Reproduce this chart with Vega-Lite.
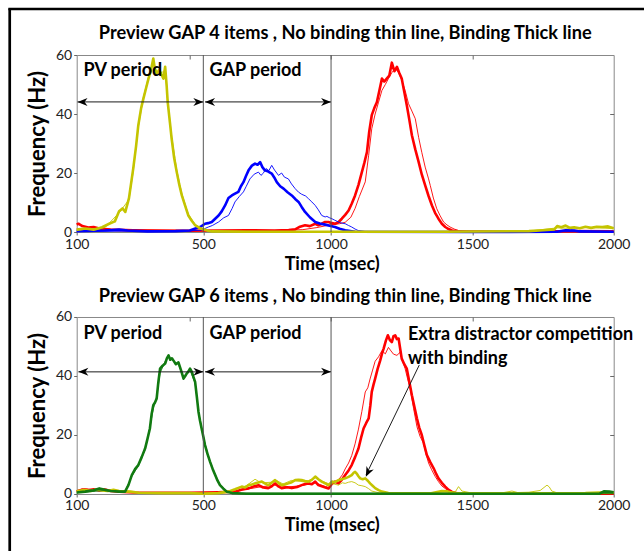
{
  "$schema": "https://vega.github.io/schema/vega-lite/v6.json",
  "padding": {"left": 6.7, "top": 6, "right": 0, "bottom": 0},
  "background": "white",
  "spacing": 85,
  "bounds": "flush",
  "config": {
    "view": {"stroke": "#888888", "strokeWidth": 1},
    "font": "Lato"
  },
  "datasets": {
    "top": [
      {"s":"red","b":"No binding","t":100,"f":1.0},{"s":"red","b":"No binding","t":150,"f":0.6},{"s":"red","b":"No binding","t":300,"f":0.4},{"s":"red","b":"No binding","t":600,"f":0.4},{"s":"red","b":"No binding","t":800,"f":0.5},{"s":"red","b":"No binding","t":900,"f":0.8},{"s":"red","b":"No binding","t":950,"f":1.5},{"s":"red","b":"No binding","t":1000,"f":2.5},{"s":"red","b":"No binding","t":1030,"f":2.8},{"s":"red","b":"No binding","t":1050,"f":3.3},{"s":"red","b":"No binding","t":1070,"f":5},{"s":"red","b":"No binding","t":1085,"f":8},{"s":"red","b":"No binding","t":1100,"f":12},{"s":"red","b":"No binding","t":1121,"f":17},{"s":"red","b":"No binding","t":1133,"f":26},{"s":"red","b":"No binding","t":1144,"f":35},{"s":"red","b":"No binding","t":1156,"f":40},{"s":"red","b":"No binding","t":1168,"f":44},{"s":"red","b":"No binding","t":1180,"f":48},{"s":"red","b":"No binding","t":1192,"f":50},{"s":"red","b":"No binding","t":1203,"f":52},{"s":"red","b":"No binding","t":1215,"f":54},{"s":"red","b":"No binding","t":1227,"f":55.5},{"s":"red","b":"No binding","t":1239,"f":54},{"s":"red","b":"No binding","t":1250,"f":51.5},{"s":"red","b":"No binding","t":1262,"f":48},{"s":"red","b":"No binding","t":1274,"f":43.5},{"s":"red","b":"No binding","t":1286,"f":41},{"s":"red","b":"No binding","t":1298,"f":38.4},{"s":"red","b":"No binding","t":1310,"f":32},{"s":"red","b":"No binding","t":1321,"f":27},{"s":"red","b":"No binding","t":1333,"f":22},{"s":"red","b":"No binding","t":1345,"f":18},{"s":"red","b":"No binding","t":1351,"f":15.8},{"s":"red","b":"No binding","t":1362,"f":11.5},{"s":"red","b":"No binding","t":1374,"f":7.9},{"s":"red","b":"No binding","t":1386,"f":5.5},{"s":"red","b":"No binding","t":1398,"f":3.4},{"s":"red","b":"No binding","t":1410,"f":2.4},{"s":"red","b":"No binding","t":1421,"f":1.7},{"s":"red","b":"No binding","t":1436,"f":1.0},{"s":"red","b":"No binding","t":1451,"f":0.5},{"s":"red","b":"No binding","t":1480,"f":0.2},{"s":"red","b":"No binding","t":2000,"f":0.1},
      {"s":"red","b":"Binding","t":100,"f":2.5},{"s":"red","b":"Binding","t":106,"f":2.8},{"s":"red","b":"Binding","t":120,"f":2.0},{"s":"red","b":"Binding","t":141,"f":1.5},{"s":"red","b":"Binding","t":160,"f":1.7},{"s":"red","b":"Binding","t":180,"f":1.2},{"s":"red","b":"Binding","t":220,"f":0.8},{"s":"red","b":"Binding","t":300,"f":0.6},{"s":"red","b":"Binding","t":400,"f":0.5},{"s":"red","b":"Binding","t":500,"f":0.4},{"s":"red","b":"Binding","t":600,"f":0.5},{"s":"red","b":"Binding","t":700,"f":0.6},{"s":"red","b":"Binding","t":800,"f":0.5},{"s":"red","b":"Binding","t":850,"f":0.7},{"s":"red","b":"Binding","t":873,"f":0.9},{"s":"red","b":"Binding","t":890,"f":1.8},{"s":"red","b":"Binding","t":908,"f":2.3},{"s":"red","b":"Binding","t":925,"f":2.0},{"s":"red","b":"Binding","t":944,"f":2.8},{"s":"red","b":"Binding","t":955,"f":2.3},{"s":"red","b":"Binding","t":967,"f":2.8},{"s":"red","b":"Binding","t":979,"f":3.4},{"s":"red","b":"Binding","t":991,"f":3.4},{"s":"red","b":"Binding","t":1003,"f":3.0},{"s":"red","b":"Binding","t":1014,"f":2.8},{"s":"red","b":"Binding","t":1026,"f":3.3},{"s":"red","b":"Binding","t":1038,"f":4.5},{"s":"red","b":"Binding","t":1050,"f":5.8},{"s":"red","b":"Binding","t":1062,"f":7.3},{"s":"red","b":"Binding","t":1073,"f":9.6},{"s":"red","b":"Binding","t":1085,"f":12.4},{"s":"red","b":"Binding","t":1097,"f":16},{"s":"red","b":"Binding","t":1109,"f":20.3},{"s":"red","b":"Binding","t":1118,"f":23.5},{"s":"red","b":"Binding","t":1127,"f":27.1},{"s":"red","b":"Binding","t":1135,"f":34},{"s":"red","b":"Binding","t":1144,"f":39.6},{"s":"red","b":"Binding","t":1153,"f":42},{"s":"red","b":"Binding","t":1162,"f":44},{"s":"red","b":"Binding","t":1171,"f":48},{"s":"red","b":"Binding","t":1180,"f":52},{"s":"red","b":"Binding","t":1188,"f":51},{"s":"red","b":"Binding","t":1197,"f":52},{"s":"red","b":"Binding","t":1206,"f":53},{"s":"red","b":"Binding","t":1215,"f":57.4},{"s":"red","b":"Binding","t":1224,"f":54.5},{"s":"red","b":"Binding","t":1233,"f":56},{"s":"red","b":"Binding","t":1241,"f":54},{"s":"red","b":"Binding","t":1250,"f":52},{"s":"red","b":"Binding","t":1259,"f":47.5},{"s":"red","b":"Binding","t":1268,"f":43},{"s":"red","b":"Binding","t":1277,"f":38},{"s":"red","b":"Binding","t":1286,"f":32.8},{"s":"red","b":"Binding","t":1298,"f":28},{"s":"red","b":"Binding","t":1310,"f":23.7},{"s":"red","b":"Binding","t":1321,"f":19.5},{"s":"red","b":"Binding","t":1333,"f":15.8},{"s":"red","b":"Binding","t":1345,"f":12.2},{"s":"red","b":"Binding","t":1357,"f":9},{"s":"red","b":"Binding","t":1368,"f":6.5},{"s":"red","b":"Binding","t":1380,"f":4.5},{"s":"red","b":"Binding","t":1392,"f":2.8},{"s":"red","b":"Binding","t":1404,"f":1.7},{"s":"red","b":"Binding","t":1416,"f":1.0},{"s":"red","b":"Binding","t":1428,"f":0.5},{"s":"red","b":"Binding","t":1450,"f":0.2},{"s":"red","b":"Binding","t":1600,"f":0.1},{"s":"red","b":"Binding","t":1800,"f":0.2},{"s":"red","b":"Binding","t":1850,"f":0.3},{"s":"red","b":"Binding","t":2000,"f":0.2},
      {"s":"blue","b":"No binding","t":100,"f":0.2},{"s":"blue","b":"No binding","t":300,"f":0.3},{"s":"blue","b":"No binding","t":500,"f":0.4},{"s":"blue","b":"No binding","t":540,"f":0.6},{"s":"blue","b":"No binding","t":566,"f":1.7},{"s":"blue","b":"No binding","t":580,"f":2.2},{"s":"blue","b":"No binding","t":602,"f":3.4},{"s":"blue","b":"No binding","t":620,"f":4.8},{"s":"blue","b":"No binding","t":637,"f":5.6},{"s":"blue","b":"No binding","t":650,"f":8},{"s":"blue","b":"No binding","t":660,"f":10.2},{"s":"blue","b":"No binding","t":675,"f":12},{"s":"blue","b":"No binding","t":690,"f":13.6},{"s":"blue","b":"No binding","t":700,"f":15.5},{"s":"blue","b":"No binding","t":713,"f":18},{"s":"blue","b":"No binding","t":728,"f":19.6},{"s":"blue","b":"No binding","t":743,"f":20.3},{"s":"blue","b":"No binding","t":752,"f":19.2},{"s":"blue","b":"No binding","t":760,"f":19.9},{"s":"blue","b":"No binding","t":770,"f":21.5},{"s":"blue","b":"No binding","t":780,"f":20.8},{"s":"blue","b":"No binding","t":790,"f":22.6},{"s":"blue","b":"No binding","t":800,"f":21},{"s":"blue","b":"No binding","t":814,"f":19.2},{"s":"blue","b":"No binding","t":825,"f":20},{"s":"blue","b":"No binding","t":835,"f":18.6},{"s":"blue","b":"No binding","t":849,"f":18},{"s":"blue","b":"No binding","t":860,"f":16.3},{"s":"blue","b":"No binding","t":873,"f":14.7},{"s":"blue","b":"No binding","t":885,"f":13.5},{"s":"blue","b":"No binding","t":896,"f":12.8},{"s":"blue","b":"No binding","t":910,"f":12.2},{"s":"blue","b":"No binding","t":920,"f":11.3},{"s":"blue","b":"No binding","t":932,"f":10.2},{"s":"blue","b":"No binding","t":944,"f":9},{"s":"blue","b":"No binding","t":955,"f":7.5},{"s":"blue","b":"No binding","t":967,"f":5.6},{"s":"blue","b":"No binding","t":979,"f":5.1},{"s":"blue","b":"No binding","t":985,"f":5.3},{"s":"blue","b":"No binding","t":995,"f":4.8},{"s":"blue","b":"No binding","t":1003,"f":4.5},{"s":"blue","b":"No binding","t":1013,"f":4},{"s":"blue","b":"No binding","t":1030,"f":3.2},{"s":"blue","b":"No binding","t":1050,"f":2.8},{"s":"blue","b":"No binding","t":1062,"f":2.2},{"s":"blue","b":"No binding","t":1073,"f":1.7},{"s":"blue","b":"No binding","t":1085,"f":1.0},{"s":"blue","b":"No binding","t":1096,"f":0.5},{"s":"blue","b":"No binding","t":1120,"f":0.2},{"s":"blue","b":"No binding","t":2000,"f":0.1},
      {"s":"blue","b":"Binding","t":100,"f":0.3},{"s":"blue","b":"Binding","t":200,"f":0.5},{"s":"blue","b":"Binding","t":250,"f":0.8},{"s":"blue","b":"Binding","t":280,"f":0.5},{"s":"blue","b":"Binding","t":350,"f":0.2},{"s":"blue","b":"Binding","t":450,"f":0.3},{"s":"blue","b":"Binding","t":500,"f":0.5},{"s":"blue","b":"Binding","t":520,"f":1.2},{"s":"blue","b":"Binding","t":537,"f":1.7},{"s":"blue","b":"Binding","t":554,"f":2.8},{"s":"blue","b":"Binding","t":565,"f":3.0},{"s":"blue","b":"Binding","t":578,"f":3.4},{"s":"blue","b":"Binding","t":590,"f":4.5},{"s":"blue","b":"Binding","t":602,"f":5.6},{"s":"blue","b":"Binding","t":613,"f":7.0},{"s":"blue","b":"Binding","t":625,"f":9},{"s":"blue","b":"Binding","t":637,"f":11.5},{"s":"blue","b":"Binding","t":649,"f":12.4},{"s":"blue","b":"Binding","t":660,"f":13.0},{"s":"blue","b":"Binding","t":672,"f":13.6},{"s":"blue","b":"Binding","t":681,"f":15.5},{"s":"blue","b":"Binding","t":690,"f":16.9},{"s":"blue","b":"Binding","t":699,"f":19},{"s":"blue","b":"Binding","t":708,"f":20.9},{"s":"blue","b":"Binding","t":720,"f":22.5},{"s":"blue","b":"Binding","t":731,"f":23.2},{"s":"blue","b":"Binding","t":740,"f":22.8},{"s":"blue","b":"Binding","t":749,"f":23.7},{"s":"blue","b":"Binding","t":757,"f":22},{"s":"blue","b":"Binding","t":766,"f":20.9},{"s":"blue","b":"Binding","t":778,"f":20.5},{"s":"blue","b":"Binding","t":790,"f":19.8},{"s":"blue","b":"Binding","t":799,"f":18.5},{"s":"blue","b":"Binding","t":808,"f":16.9},{"s":"blue","b":"Binding","t":820,"f":15.5},{"s":"blue","b":"Binding","t":832,"f":14.7},{"s":"blue","b":"Binding","t":846,"f":13.5},{"s":"blue","b":"Binding","t":861,"f":12.4},{"s":"blue","b":"Binding","t":873,"f":11.2},{"s":"blue","b":"Binding","t":885,"f":10.2},{"s":"blue","b":"Binding","t":896,"f":8.5},{"s":"blue","b":"Binding","t":908,"f":6.8},{"s":"blue","b":"Binding","t":925,"f":5},{"s":"blue","b":"Binding","t":944,"f":3.4},{"s":"blue","b":"Binding","t":960,"f":2.9},{"s":"blue","b":"Binding","t":979,"f":2.5},{"s":"blue","b":"Binding","t":995,"f":2.1},{"s":"blue","b":"Binding","t":1014,"f":1.7},{"s":"blue","b":"Binding","t":1030,"f":1.1},{"s":"blue","b":"Binding","t":1050,"f":0.6},{"s":"blue","b":"Binding","t":1085,"f":0.1},{"s":"blue","b":"Binding","t":1500,"f":0.0},{"s":"blue","b":"Binding","t":1800,"f":0.1},{"s":"blue","b":"Binding","t":1830,"f":0.6},{"s":"blue","b":"Binding","t":1860,"f":0.5},{"s":"blue","b":"Binding","t":1880,"f":0.2},{"s":"blue","b":"Binding","t":2000,"f":0.1},
      {"s":"yellow","b":"No binding","t":100,"f":0.6},{"s":"yellow","b":"No binding","t":200,"f":1.5},{"s":"yellow","b":"No binding","t":250,"f":6.5},{"s":"yellow","b":"No binding","t":285,"f":11},{"s":"yellow","b":"No binding","t":300,"f":20.5},{"s":"yellow","b":"No binding","t":318,"f":35.5},{"s":"yellow","b":"No binding","t":336,"f":45.8},{"s":"yellow","b":"No binding","t":354,"f":52.5},{"s":"yellow","b":"No binding","t":371,"f":57.5},{"s":"yellow","b":"No binding","t":383,"f":54.5},{"s":"yellow","b":"No binding","t":401,"f":54},{"s":"yellow","b":"No binding","t":413,"f":55},{"s":"yellow","b":"No binding","t":422,"f":44.5},{"s":"yellow","b":"No binding","t":436,"f":32.4},{"s":"yellow","b":"No binding","t":454,"f":21},{"s":"yellow","b":"No binding","t":472,"f":13},{"s":"yellow","b":"No binding","t":495,"f":6},{"s":"yellow","b":"No binding","t":519,"f":2.6},{"s":"yellow","b":"No binding","t":548,"f":1},{"s":"yellow","b":"No binding","t":578,"f":0.3},{"s":"yellow","b":"No binding","t":1000,"f":0.1},{"s":"yellow","b":"No binding","t":1700,"f":0.3},{"s":"yellow","b":"No binding","t":1800,"f":1.4},{"s":"yellow","b":"No binding","t":1850,"f":1.2},{"s":"yellow","b":"No binding","t":1900,"f":1.5},{"s":"yellow","b":"No binding","t":1950,"f":1.4},{"s":"yellow","b":"No binding","t":2000,"f":1.1},
      {"s":"yellow","b":"Binding","t":100,"f":0.8},{"s":"yellow","b":"Binding","t":130,"f":1.2},{"s":"yellow","b":"Binding","t":160,"f":0.8},{"s":"yellow","b":"Binding","t":190,"f":1.6},{"s":"yellow","b":"Binding","t":215,"f":2.8},{"s":"yellow","b":"Binding","t":235,"f":3.6},{"s":"yellow","b":"Binding","t":250,"f":7.0},{"s":"yellow","b":"Binding","t":262,"f":8.0},{"s":"yellow","b":"Binding","t":272,"f":6.8},{"s":"yellow","b":"Binding","t":285,"f":11.5},{"s":"yellow","b":"Binding","t":300,"f":21.5},{"s":"yellow","b":"Binding","t":310,"f":29},{"s":"yellow","b":"Binding","t":318,"f":36.2},{"s":"yellow","b":"Binding","t":328,"f":42},{"s":"yellow","b":"Binding","t":336,"f":45.2},{"s":"yellow","b":"Binding","t":346,"f":49},{"s":"yellow","b":"Binding","t":354,"f":52},{"s":"yellow","b":"Binding","t":363,"f":55},{"s":"yellow","b":"Binding","t":371,"f":58.8},{"s":"yellow","b":"Binding","t":377,"f":55},{"s":"yellow","b":"Binding","t":383,"f":53.7},{"s":"yellow","b":"Binding","t":392,"f":55},{"s":"yellow","b":"Binding","t":401,"f":53.2},{"s":"yellow","b":"Binding","t":407,"f":52},{"s":"yellow","b":"Binding","t":413,"f":56},{"s":"yellow","b":"Binding","t":418,"f":50},{"s":"yellow","b":"Binding","t":422,"f":44},{"s":"yellow","b":"Binding","t":430,"f":37},{"s":"yellow","b":"Binding","t":436,"f":31.6},{"s":"yellow","b":"Binding","t":445,"f":25},{"s":"yellow","b":"Binding","t":454,"f":20.3},{"s":"yellow","b":"Binding","t":463,"f":16},{"s":"yellow","b":"Binding","t":472,"f":12.4},{"s":"yellow","b":"Binding","t":485,"f":8.5},{"s":"yellow","b":"Binding","t":495,"f":5.6},{"s":"yellow","b":"Binding","t":507,"f":3.8},{"s":"yellow","b":"Binding","t":519,"f":2.3},{"s":"yellow","b":"Binding","t":535,"f":1.3},{"s":"yellow","b":"Binding","t":548,"f":0.9},{"s":"yellow","b":"Binding","t":565,"f":0.4},{"s":"yellow","b":"Binding","t":578,"f":0.2},{"s":"yellow","b":"Binding","t":700,"f":0.1},{"s":"yellow","b":"Binding","t":1000,"f":0.1},{"s":"yellow","b":"Binding","t":1400,"f":0.1},{"s":"yellow","b":"Binding","t":1700,"f":0.3},{"s":"yellow","b":"Binding","t":1750,"f":0.6},{"s":"yellow","b":"Binding","t":1790,"f":0.9},{"s":"yellow","b":"Binding","t":1800,"f":2.0},{"s":"yellow","b":"Binding","t":1815,"f":1.6},{"s":"yellow","b":"Binding","t":1830,"f":2.2},{"s":"yellow","b":"Binding","t":1845,"f":1.4},{"s":"yellow","b":"Binding","t":1860,"f":1.6},{"s":"yellow","b":"Binding","t":1880,"f":1.3},{"s":"yellow","b":"Binding","t":1900,"f":1.8},{"s":"yellow","b":"Binding","t":1920,"f":1.4},{"s":"yellow","b":"Binding","t":1940,"f":1.8},{"s":"yellow","b":"Binding","t":1960,"f":1.7},{"s":"yellow","b":"Binding","t":1980,"f":1.9},{"s":"yellow","b":"Binding","t":2000,"f":1.3}
    ],
    "bottom": [
      {"s":"red","b":"No binding","t":100,"f":1.2},{"s":"red","b":"No binding","t":130,"f":1.8},{"s":"red","b":"No binding","t":160,"f":1.4},{"s":"red","b":"No binding","t":200,"f":1.6},{"s":"red","b":"No binding","t":230,"f":1.0},{"s":"red","b":"No binding","t":300,"f":0.5},{"s":"red","b":"No binding","t":500,"f":0.4},{"s":"red","b":"No binding","t":640,"f":0.6},{"s":"red","b":"No binding","t":700,"f":1.6},{"s":"red","b":"No binding","t":750,"f":2.4},{"s":"red","b":"No binding","t":800,"f":3.0},{"s":"red","b":"No binding","t":850,"f":2.4},{"s":"red","b":"No binding","t":900,"f":2.9},{"s":"red","b":"No binding","t":944,"f":3.8},{"s":"red","b":"No binding","t":980,"f":2.5},{"s":"red","b":"No binding","t":1000,"f":3.2},{"s":"red","b":"No binding","t":1020,"f":4.0},{"s":"red","b":"No binding","t":1040,"f":6.5},{"s":"red","b":"No binding","t":1050,"f":8.5},{"s":"red","b":"No binding","t":1062,"f":10.5},{"s":"red","b":"No binding","t":1073,"f":13},{"s":"red","b":"No binding","t":1085,"f":17},{"s":"red","b":"No binding","t":1097,"f":22},{"s":"red","b":"No binding","t":1109,"f":28},{"s":"red","b":"No binding","t":1121,"f":34.6},{"s":"red","b":"No binding","t":1130,"f":36},{"s":"red","b":"No binding","t":1138,"f":39},{"s":"red","b":"No binding","t":1147,"f":42},{"s":"red","b":"No binding","t":1156,"f":45},{"s":"red","b":"No binding","t":1168,"f":46.5},{"s":"red","b":"No binding","t":1180,"f":48.6},{"s":"red","b":"No binding","t":1192,"f":47.5},{"s":"red","b":"No binding","t":1203,"f":49.7},{"s":"red","b":"No binding","t":1212,"f":48.5},{"s":"red","b":"No binding","t":1221,"f":47.4},{"s":"red","b":"No binding","t":1233,"f":47},{"s":"red","b":"No binding","t":1244,"f":48},{"s":"red","b":"No binding","t":1253,"f":45},{"s":"red","b":"No binding","t":1262,"f":42.5},{"s":"red","b":"No binding","t":1271,"f":39},{"s":"red","b":"No binding","t":1280,"f":35.7},{"s":"red","b":"No binding","t":1292,"f":29},{"s":"red","b":"No binding","t":1304,"f":22.8},{"s":"red","b":"No binding","t":1315,"f":19.5},{"s":"red","b":"No binding","t":1327,"f":17.3},{"s":"red","b":"No binding","t":1336,"f":13.5},{"s":"red","b":"No binding","t":1345,"f":10.5},{"s":"red","b":"No binding","t":1356,"f":8.2},{"s":"red","b":"No binding","t":1368,"f":6},{"s":"red","b":"No binding","t":1380,"f":4.2},{"s":"red","b":"No binding","t":1392,"f":2.7},{"s":"red","b":"No binding","t":1406,"f":1.7},{"s":"red","b":"No binding","t":1421,"f":0.9},{"s":"red","b":"No binding","t":1440,"f":0.3},{"s":"red","b":"No binding","t":1600,"f":0.1},{"s":"red","b":"No binding","t":2000,"f":0.1},
      {"s":"red","b":"Binding","t":100,"f":0.8},{"s":"red","b":"Binding","t":120,"f":1.5},{"s":"red","b":"Binding","t":140,"f":1.3},{"s":"red","b":"Binding","t":160,"f":1.6},{"s":"red","b":"Binding","t":180,"f":1.2},{"s":"red","b":"Binding","t":200,"f":1.5},{"s":"red","b":"Binding","t":220,"f":1.0},{"s":"red","b":"Binding","t":250,"f":0.8},{"s":"red","b":"Binding","t":300,"f":0.5},{"s":"red","b":"Binding","t":400,"f":0.4},{"s":"red","b":"Binding","t":500,"f":0.4},{"s":"red","b":"Binding","t":600,"f":0.6},{"s":"red","b":"Binding","t":660,"f":0.8},{"s":"red","b":"Binding","t":685,"f":1.5},{"s":"red","b":"Binding","t":708,"f":1.9},{"s":"red","b":"Binding","t":725,"f":2.5},{"s":"red","b":"Binding","t":743,"f":3.0},{"s":"red","b":"Binding","t":760,"f":2.2},{"s":"red","b":"Binding","t":778,"f":2.0},{"s":"red","b":"Binding","t":790,"f":2.6},{"s":"red","b":"Binding","t":802,"f":3.6},{"s":"red","b":"Binding","t":812,"f":2.7},{"s":"red","b":"Binding","t":825,"f":2.0},{"s":"red","b":"Binding","t":845,"f":2.3},{"s":"red","b":"Binding","t":861,"f":2.0},{"s":"red","b":"Binding","t":880,"f":2.4},{"s":"red","b":"Binding","t":896,"f":3.0},{"s":"red","b":"Binding","t":908,"f":3.4},{"s":"red","b":"Binding","t":920,"f":3.6},{"s":"red","b":"Binding","t":932,"f":3.3},{"s":"red","b":"Binding","t":944,"f":4.2},{"s":"red","b":"Binding","t":955,"f":3.0},{"s":"red","b":"Binding","t":967,"f":2.6},{"s":"red","b":"Binding","t":980,"f":2.2},{"s":"red","b":"Binding","t":991,"f":1.9},{"s":"red","b":"Binding","t":1003,"f":3.5},{"s":"red","b":"Binding","t":1014,"f":4.2},{"s":"red","b":"Binding","t":1026,"f":3.6},{"s":"red","b":"Binding","t":1038,"f":4.8},{"s":"red","b":"Binding","t":1050,"f":6.4},{"s":"red","b":"Binding","t":1062,"f":8.0},{"s":"red","b":"Binding","t":1073,"f":9.8},{"s":"red","b":"Binding","t":1085,"f":12.5},{"s":"red","b":"Binding","t":1097,"f":15.4},{"s":"red","b":"Binding","t":1106,"f":19},{"s":"red","b":"Binding","t":1115,"f":22.2},{"s":"red","b":"Binding","t":1124,"f":24},{"s":"red","b":"Binding","t":1133,"f":25.6},{"s":"red","b":"Binding","t":1139,"f":30},{"s":"red","b":"Binding","t":1144,"f":34.6},{"s":"red","b":"Binding","t":1150,"f":37},{"s":"red","b":"Binding","t":1156,"f":39.1},{"s":"red","b":"Binding","t":1165,"f":42.5},{"s":"red","b":"Binding","t":1174,"f":45.3},{"s":"red","b":"Binding","t":1180,"f":47.5},{"s":"red","b":"Binding","t":1186,"f":49.3},{"s":"red","b":"Binding","t":1194,"f":52},{"s":"red","b":"Binding","t":1201,"f":53.8},{"s":"red","b":"Binding","t":1208,"f":52.2},{"s":"red","b":"Binding","t":1215,"f":51.5},{"s":"red","b":"Binding","t":1221,"f":53.5},{"s":"red","b":"Binding","t":1227,"f":53.8},{"s":"red","b":"Binding","t":1233,"f":52.5},{"s":"red","b":"Binding","t":1239,"f":52.7},{"s":"red","b":"Binding","t":1245,"f":49},{"s":"red","b":"Binding","t":1250,"f":45.9},{"s":"red","b":"Binding","t":1259,"f":44},{"s":"red","b":"Binding","t":1268,"f":42.5},{"s":"red","b":"Binding","t":1277,"f":38},{"s":"red","b":"Binding","t":1286,"f":33.5},{"s":"red","b":"Binding","t":1295,"f":29.5},{"s":"red","b":"Binding","t":1304,"f":25.6},{"s":"red","b":"Binding","t":1312,"f":22.5},{"s":"red","b":"Binding","t":1321,"f":20},{"s":"red","b":"Binding","t":1330,"f":16.5},{"s":"red","b":"Binding","t":1339,"f":13.2},{"s":"red","b":"Binding","t":1351,"f":10.8},{"s":"red","b":"Binding","t":1363,"f":8.7},{"s":"red","b":"Binding","t":1372,"f":6.8},{"s":"red","b":"Binding","t":1380,"f":5.3},{"s":"red","b":"Binding","t":1392,"f":3.8},{"s":"red","b":"Binding","t":1404,"f":2.5},{"s":"red","b":"Binding","t":1416,"f":1.4},{"s":"red","b":"Binding","t":1428,"f":0.7},{"s":"red","b":"Binding","t":1450,"f":0.2},{"s":"red","b":"Binding","t":1600,"f":0.1},{"s":"red","b":"Binding","t":2000,"f":0.1},
      {"s":"yellow","b":"No binding","t":100,"f":1.0},{"s":"yellow","b":"No binding","t":150,"f":1.2},{"s":"yellow","b":"No binding","t":200,"f":1.3},{"s":"yellow","b":"No binding","t":250,"f":1.0},{"s":"yellow","b":"No binding","t":300,"f":0.5},{"s":"yellow","b":"No binding","t":500,"f":0.3},{"s":"yellow","b":"No binding","t":600,"f":0.4},{"s":"yellow","b":"No binding","t":650,"f":1.2},{"s":"yellow","b":"No binding","t":700,"f":2.8},{"s":"yellow","b":"No binding","t":731,"f":5.0},{"s":"yellow","b":"No binding","t":745,"f":4.2},{"s":"yellow","b":"No binding","t":760,"f":3.8},{"s":"yellow","b":"No binding","t":790,"f":4.0},{"s":"yellow","b":"No binding","t":802,"f":4.8},{"s":"yellow","b":"No binding","t":830,"f":3.4},{"s":"yellow","b":"No binding","t":860,"f":4.6},{"s":"yellow","b":"No binding","t":880,"f":4.5},{"s":"yellow","b":"No binding","t":910,"f":4.0},{"s":"yellow","b":"No binding","t":944,"f":5.6},{"s":"yellow","b":"No binding","t":967,"f":4.4},{"s":"yellow","b":"No binding","t":991,"f":3.5},{"s":"yellow","b":"No binding","t":1010,"f":3.4},{"s":"yellow","b":"No binding","t":1026,"f":3.0},{"s":"yellow","b":"No binding","t":1040,"f":3.8},{"s":"yellow","b":"No binding","t":1050,"f":3.6},{"s":"yellow","b":"No binding","t":1062,"f":4.0},{"s":"yellow","b":"No binding","t":1073,"f":4.2},{"s":"yellow","b":"No binding","t":1085,"f":3.8},{"s":"yellow","b":"No binding","t":1097,"f":3.0},{"s":"yellow","b":"No binding","t":1109,"f":2.8},{"s":"yellow","b":"No binding","t":1121,"f":2.5},{"s":"yellow","b":"No binding","t":1133,"f":1.8},{"s":"yellow","b":"No binding","t":1144,"f":1.0},{"s":"yellow","b":"No binding","t":1170,"f":0.4},{"s":"yellow","b":"No binding","t":1300,"f":0.2},{"s":"yellow","b":"No binding","t":1440,"f":0.8},{"s":"yellow","b":"No binding","t":1451,"f":2.5},{"s":"yellow","b":"No binding","t":1463,"f":1.0},{"s":"yellow","b":"No binding","t":1500,"f":0.3},{"s":"yellow","b":"No binding","t":1600,"f":0.3},{"s":"yellow","b":"No binding","t":1640,"f":1.0},{"s":"yellow","b":"No binding","t":1660,"f":0.5},{"s":"yellow","b":"No binding","t":1700,"f":0.6},{"s":"yellow","b":"No binding","t":1740,"f":1.2},{"s":"yellow","b":"No binding","t":1764,"f":3.0},{"s":"yellow","b":"No binding","t":1772,"f":2.4},{"s":"yellow","b":"No binding","t":1781,"f":1.0},{"s":"yellow","b":"No binding","t":1800,"f":0.4},{"s":"yellow","b":"No binding","t":1900,"f":0.3},{"s":"yellow","b":"No binding","t":2000,"f":0.4},
      {"s":"yellow","b":"Binding","t":100,"f":0.9},{"s":"yellow","b":"Binding","t":120,"f":1.3},{"s":"yellow","b":"Binding","t":135,"f":1.3},{"s":"yellow","b":"Binding","t":150,"f":1.0},{"s":"yellow","b":"Binding","t":170,"f":1.5},{"s":"yellow","b":"Binding","t":190,"f":1.2},{"s":"yellow","b":"Binding","t":210,"f":1.0},{"s":"yellow","b":"Binding","t":230,"f":1.4},{"s":"yellow","b":"Binding","t":250,"f":1.0},{"s":"yellow","b":"Binding","t":271,"f":0.9},{"s":"yellow","b":"Binding","t":290,"f":0.8},{"s":"yellow","b":"Binding","t":320,"f":0.4},{"s":"yellow","b":"Binding","t":400,"f":0.3},{"s":"yellow","b":"Binding","t":500,"f":0.3},{"s":"yellow","b":"Binding","t":550,"f":0.1},{"s":"yellow","b":"Binding","t":600,"f":0.3},{"s":"yellow","b":"Binding","t":637,"f":0.8},{"s":"yellow","b":"Binding","t":660,"f":1.6},{"s":"yellow","b":"Binding","t":684,"f":2.5},{"s":"yellow","b":"Binding","t":696,"f":2.2},{"s":"yellow","b":"Binding","t":708,"f":3.0},{"s":"yellow","b":"Binding","t":720,"f":3.2},{"s":"yellow","b":"Binding","t":731,"f":3.6},{"s":"yellow","b":"Binding","t":743,"f":3.9},{"s":"yellow","b":"Binding","t":755,"f":4.2},{"s":"yellow","b":"Binding","t":767,"f":3.5},{"s":"yellow","b":"Binding","t":778,"f":3.0},{"s":"yellow","b":"Binding","t":790,"f":3.8},{"s":"yellow","b":"Binding","t":802,"f":4.7},{"s":"yellow","b":"Binding","t":814,"f":3.7},{"s":"yellow","b":"Binding","t":825,"f":3.0},{"s":"yellow","b":"Binding","t":837,"f":3.2},{"s":"yellow","b":"Binding","t":849,"f":3.6},{"s":"yellow","b":"Binding","t":861,"f":4.0},{"s":"yellow","b":"Binding","t":873,"f":4.7},{"s":"yellow","b":"Binding","t":885,"f":4.8},{"s":"yellow","b":"Binding","t":896,"f":4.7},{"s":"yellow","b":"Binding","t":908,"f":4.4},{"s":"yellow","b":"Binding","t":920,"f":4.2},{"s":"yellow","b":"Binding","t":932,"f":4.8},{"s":"yellow","b":"Binding","t":944,"f":5.9},{"s":"yellow","b":"Binding","t":955,"f":5.0},{"s":"yellow","b":"Binding","t":967,"f":4.2},{"s":"yellow","b":"Binding","t":979,"f":3.6},{"s":"yellow","b":"Binding","t":991,"f":3.0},{"s":"yellow","b":"Binding","t":1003,"f":4.2},{"s":"yellow","b":"Binding","t":1014,"f":4.0},{"s":"yellow","b":"Binding","t":1026,"f":4.7},{"s":"yellow","b":"Binding","t":1038,"f":5.0},{"s":"yellow","b":"Binding","t":1050,"f":5.3},{"s":"yellow","b":"Binding","t":1062,"f":5.8},{"s":"yellow","b":"Binding","t":1073,"f":6.4},{"s":"yellow","b":"Binding","t":1080,"f":7.2},{"s":"yellow","b":"Binding","t":1085,"f":7.5},{"s":"yellow","b":"Binding","t":1090,"f":7.0},{"s":"yellow","b":"Binding","t":1097,"f":6.0},{"s":"yellow","b":"Binding","t":1103,"f":5.3},{"s":"yellow","b":"Binding","t":1112,"f":5.0},{"s":"yellow","b":"Binding","t":1121,"f":5.3},{"s":"yellow","b":"Binding","t":1130,"f":4.5},{"s":"yellow","b":"Binding","t":1138,"f":3.6},{"s":"yellow","b":"Binding","t":1147,"f":2.8},{"s":"yellow","b":"Binding","t":1156,"f":2.0},{"s":"yellow","b":"Binding","t":1168,"f":1.3},{"s":"yellow","b":"Binding","t":1180,"f":0.8},{"s":"yellow","b":"Binding","t":1203,"f":0.3},{"s":"yellow","b":"Binding","t":1350,"f":0.2},{"s":"yellow","b":"Binding","t":1392,"f":1.0},{"s":"yellow","b":"Binding","t":1410,"f":0.9},{"s":"yellow","b":"Binding","t":1430,"f":0.3},{"s":"yellow","b":"Binding","t":1700,"f":0.2},{"s":"yellow","b":"Binding","t":1900,"f":0.3},{"s":"yellow","b":"Binding","t":1950,"f":0.5},{"s":"yellow","b":"Binding","t":2000,"f":0.5},
      {"s":"green","b":"No binding","t":100,"f":0.4},{"s":"green","b":"No binding","t":200,"f":1.2},{"s":"green","b":"No binding","t":271,"f":0.8},{"s":"green","b":"No binding","t":295,"f":6},{"s":"green","b":"No binding","t":318,"f":9.5},{"s":"green","b":"No binding","t":342,"f":15},{"s":"green","b":"No binding","t":359,"f":22.5},{"s":"green","b":"No binding","t":371,"f":29},{"s":"green","b":"No binding","t":383,"f":33},{"s":"green","b":"No binding","t":395,"f":41},{"s":"green","b":"No binding","t":413,"f":45},{"s":"green","b":"No binding","t":425,"f":46.5},{"s":"green","b":"No binding","t":442,"f":45},{"s":"green","b":"No binding","t":460,"f":44},{"s":"green","b":"No binding","t":478,"f":39.5},{"s":"green","b":"No binding","t":501,"f":42},{"s":"green","b":"No binding","t":519,"f":37.5},{"s":"green","b":"No binding","t":531,"f":28},{"s":"green","b":"No binding","t":542,"f":22.5},{"s":"green","b":"No binding","t":554,"f":17},{"s":"green","b":"No binding","t":572,"f":11},{"s":"green","b":"No binding","t":590,"f":6.6},{"s":"green","b":"No binding","t":607,"f":3.2},{"s":"green","b":"No binding","t":631,"f":0.9},{"s":"green","b":"No binding","t":650,"f":0.3},{"s":"green","b":"No binding","t":2000,"f":0.1},
      {"s":"green","b":"Binding","t":100,"f":0.5},{"s":"green","b":"Binding","t":130,"f":0.8},{"s":"green","b":"Binding","t":160,"f":1.3},{"s":"green","b":"Binding","t":180,"f":1.9},{"s":"green","b":"Binding","t":200,"f":1.4},{"s":"green","b":"Binding","t":220,"f":1.0},{"s":"green","b":"Binding","t":250,"f":0.8},{"s":"green","b":"Binding","t":271,"f":0.8},{"s":"green","b":"Binding","t":283,"f":3},{"s":"green","b":"Binding","t":295,"f":6.4},{"s":"green","b":"Binding","t":307,"f":8.5},{"s":"green","b":"Binding","t":318,"f":9.8},{"s":"green","b":"Binding","t":330,"f":12.5},{"s":"green","b":"Binding","t":342,"f":15.4},{"s":"green","b":"Binding","t":350,"f":18.5},{"s":"green","b":"Binding","t":359,"f":22.2},{"s":"green","b":"Binding","t":365,"f":27},{"s":"green","b":"Binding","t":371,"f":30.1},{"s":"green","b":"Binding","t":377,"f":31},{"s":"green","b":"Binding","t":383,"f":32.4},{"s":"green","b":"Binding","t":389,"f":38},{"s":"green","b":"Binding","t":395,"f":42.5},{"s":"green","b":"Binding","t":404,"f":43.5},{"s":"green","b":"Binding","t":413,"f":44.2},{"s":"green","b":"Binding","t":419,"f":46},{"s":"green","b":"Binding","t":425,"f":47},{"s":"green","b":"Binding","t":431,"f":45.5},{"s":"green","b":"Binding","t":437,"f":46},{"s":"green","b":"Binding","t":442,"f":45.3},{"s":"green","b":"Binding","t":451,"f":44},{"s":"green","b":"Binding","t":460,"f":44.6},{"s":"green","b":"Binding","t":469,"f":42},{"s":"green","b":"Binding","t":478,"f":39.1},{"s":"green","b":"Binding","t":484,"f":40},{"s":"green","b":"Binding","t":489,"f":40.8},{"s":"green","b":"Binding","t":495,"f":41.5},{"s":"green","b":"Binding","t":501,"f":42.5},{"s":"green","b":"Binding","t":507,"f":41.5},{"s":"green","b":"Binding","t":513,"f":39.7},{"s":"green","b":"Binding","t":519,"f":38},{"s":"green","b":"Binding","t":525,"f":33},{"s":"green","b":"Binding","t":531,"f":27.8},{"s":"green","b":"Binding","t":536,"f":25},{"s":"green","b":"Binding","t":542,"f":22.2},{"s":"green","b":"Binding","t":548,"f":19.5},{"s":"green","b":"Binding","t":554,"f":16.6},{"s":"green","b":"Binding","t":563,"f":13.5},{"s":"green","b":"Binding","t":572,"f":10.9},{"s":"green","b":"Binding","t":581,"f":8.5},{"s":"green","b":"Binding","t":590,"f":6.4},{"s":"green","b":"Binding","t":598,"f":4.6},{"s":"green","b":"Binding","t":607,"f":3},{"s":"green","b":"Binding","t":619,"f":1.8},{"s":"green","b":"Binding","t":631,"f":0.8},{"s":"green","b":"Binding","t":650,"f":0.3},{"s":"green","b":"Binding","t":700,"f":0.1},{"s":"green","b":"Binding","t":1000,"f":0.1},{"s":"green","b":"Binding","t":1500,"f":0.1},{"s":"green","b":"Binding","t":1950,"f":0.1},{"s":"green","b":"Binding","t":1965,"f":0.9},{"s":"green","b":"Binding","t":1985,"f":0.8},{"s":"green","b":"Binding","t":2000,"f":0.6}
    ]
  },
  "vconcat": [
    {
      "width": 537,
      "height": 177,
      "resolve": {"axis": {"x": "independent", "y": "independent"}},
      "layer": [
        {
          "data": {"name": "top"},
          "mark": {"type": "line", "strokeJoin": "round"},
          "encoding": {
            "x": {"field": "t", "type": "quantitative", "scale": {"domain": [100, 2000], "nice": false, "zero": false},
              "axis": {"values": [100, 548, 1000, 1500, 2000], "labelExpr": "datum.value == 548 ? '500' : format(datum.value, 'd')", "title": "Time (msec)", "grid": false, "domain": false, "tickSize": 3, "tickColor": "#666666", "labelFont": "Lato", "labelFontSize": 14, "labelColor": "#222222", "labelPadding": 2, "labelFlush": false, "labelOverlap": false, "titleFont": "Lato", "titleFontWeight": "bold", "titleFontSize": 18, "titleColor": "#000000", "titlePadding": 4, "titleX": 255}},
            "y": {"field": "f", "type": "quantitative", "scale": {"domain": [0, 60], "nice": false},
              "axis": {"values": [0, 20, 40, 60], "title": "Frequency (Hz)", "grid": false, "domain": false, "tickSize": 3, "tickColor": "#666666", "labelFont": "Lato", "labelFontSize": 14, "labelColor": "#222222", "labelPadding": 2, "titleFont": "Lato", "titleFontWeight": "bold", "titleFontSize": 22, "titleColor": "#000000", "titlePadding": 6}},
            "color": {"field": "s", "type": "nominal", "scale": {"domain": ["red", "blue", "yellow", "green"], "range": ["#ff0000", "#0000ff", "#c4c400", "#117a11"]}, "legend": null},
            "size": {"field": "b", "type": "ordinal", "scale": {"domain": ["Binding", "No binding"], "range": [2.6, 0.9]}, "legend": null}
          }
        },
        {
          "data": {"values": [{"t": 548}, {"t": 1000}]},
          "mark": {"type": "rule", "color": "#555555", "strokeWidth": 1},
          "encoding": {
            "x": {"field": "t", "type": "quantitative", "axis": {"orient": "top", "values": [500, 1000, 1500], "labels": false, "domain": false, "grid": false, "title": null, "tickSize": -4, "tickColor": "#666666"}}
          }
        },
        {
          "data": {"values": [{"t1": 103, "t2": 547, "f": 44.1}, {"t1": 554, "t2": 999, "f": 44.1}]},
          "mark": {"type": "rule", "color": "#1a1a1a", "strokeWidth": 1},
          "encoding": {
            "x": {"field": "t1", "type": "quantitative", "axis": null},
            "x2": {"field": "t2"},
            "y": {"field": "f", "type": "quantitative", "axis": {"orient": "right", "values": [20, 40], "labels": false, "domain": false, "grid": false, "title": null, "tickSize": -4, "tickColor": "#666666"}}
          }
        },
        {
          "data": {"values": [{"t": 103, "f": 44.1, "d": "L"}, {"t": 548, "f": 44.1, "d": "R"}, {"t": 554, "f": 44.1, "d": "L"}, {"t": 1000, "f": 44.1, "d": "R"}]},
          "mark": {"type": "point", "filled": true, "size": 400, "color": "#000000", "opacity": 1, "strokeWidth": 0},
          "encoding": {
            "x": {"field": "t", "type": "quantitative", "axis": null},
            "y": {"field": "f", "type": "quantitative", "axis": null},
            "shape": {"field": "d", "type": "nominal", "scale": {"domain": ["L", "R"], "range": ["M 0 0 L 1 -0.4 L 0.7 0 L 1 0.4 Z", "M 0 0 L -1 -0.4 L -0.7 0 L -1 0.4 Z"]}, "legend": null}
          }
        },
        {
          "data": {"values": [{"t": 124, "f": 54.7, "label": "PV period"}, {"t": 570, "f": 54.7, "label": "GAP period"}]},
          "mark": {"type": "text", "align": "left", "baseline": "middle", "font": "Lato", "fontSize": 18, "fontWeight": "bold", "color": "#000000"},
          "encoding": {
            "x": {"field": "t", "type": "quantitative", "axis": null},
            "y": {"field": "f", "type": "quantitative", "axis": null},
            "text": {"field": "label"}
          }
        },
        {
          "data": {"values": [{"t": 1050, "f": 65.4, "label": "Preview GAP 4 items , No binding thin line, Binding Thick line"}]},
          "mark": {"type": "text", "align": "center", "baseline": "alphabetic", "font": "Lato", "fontSize": 18.2, "fontWeight": "bold", "color": "#000000", "clip": false},
          "encoding": {
            "x": {"field": "t", "type": "quantitative", "axis": null},
            "y": {"field": "f", "type": "quantitative", "axis": null},
            "text": {"field": "label"}
          }
        },
        {
          "data": {"values": [{}]},
          "mark": {"type": "rule", "color": "#000000", "strokeWidth": 2.7, "strokeCap": "square", "clip": false},
          "encoding": {
            "x": {"datum": -137, "axis": null},
            "x2": {"datum": 2103},
            "y": {"datum": 75.6, "axis": null}
          }
        }
      ]
    },
    {
      "width": 537,
      "height": 177,
      "resolve": {"axis": {"x": "independent", "y": "independent"}},
      "layer": [
        {
          "data": {"name": "bottom"},
          "mark": {"type": "line", "strokeJoin": "round"},
          "encoding": {
            "x": {"field": "t", "type": "quantitative", "scale": {"domain": [100, 2000], "nice": false, "zero": false},
              "axis": {"values": [100, 548, 1000, 1500, 2000], "labelExpr": "datum.value == 548 ? '500' : format(datum.value, 'd')", "title": "Time (msec)", "grid": false, "domain": false, "tickSize": 3, "tickColor": "#666666", "labelFont": "Lato", "labelFontSize": 14, "labelColor": "#222222", "labelPadding": 2, "labelFlush": false, "labelOverlap": false, "titleFont": "Lato", "titleFontWeight": "bold", "titleFontSize": 18, "titleColor": "#000000", "titlePadding": 4, "titleX": 255}},
            "y": {"field": "f", "type": "quantitative", "scale": {"domain": [0, 60], "nice": false},
              "axis": {"values": [0, 20, 40, 60], "title": "Frequency (Hz)", "grid": false, "domain": false, "tickSize": 3, "tickColor": "#666666", "labelFont": "Lato", "labelFontSize": 14, "labelColor": "#222222", "labelPadding": 2, "titleFont": "Lato", "titleFontWeight": "bold", "titleFontSize": 22, "titleColor": "#000000", "titlePadding": 6}},
            "color": {"field": "s", "type": "nominal", "scale": {"domain": ["red", "blue", "yellow", "green"], "range": ["#ff0000", "#0000ff", "#c4c400", "#117a11"]}, "legend": null},
            "size": {"field": "b", "type": "ordinal", "scale": {"domain": ["Binding", "No binding"], "range": [2.6, 0.9]}, "legend": null}
          }
        },
        {
          "data": {"values": [{"t": 548}, {"t": 1000}]},
          "mark": {"type": "rule", "color": "#555555", "strokeWidth": 1},
          "encoding": {
            "x": {"field": "t", "type": "quantitative", "axis": {"orient": "top", "values": [500, 1000, 1500], "labels": false, "domain": false, "grid": false, "title": null, "tickSize": -4, "tickColor": "#666666"}}
          }
        },
        {
          "data": {"values": [{"t1": 106, "t2": 547, "f": 41.4}, {"t1": 554, "t2": 999, "f": 41.4}]},
          "mark": {"type": "rule", "color": "#1a1a1a", "strokeWidth": 1},
          "encoding": {
            "x": {"field": "t1", "type": "quantitative", "axis": null},
            "x2": {"field": "t2"},
            "y": {"field": "f", "type": "quantitative", "axis": {"orient": "right", "values": [20, 40], "labels": false, "domain": false, "grid": false, "title": null, "tickSize": -4, "tickColor": "#666666"}}
          }
        },
        {
          "data": {"values": [{"t1": 1312, "f1": 43.7, "t2": 1124, "f2": 6.5}]},
          "mark": {"type": "rule", "color": "#1a1a1a", "strokeWidth": 1},
          "encoding": {
            "x": {"field": "t1", "type": "quantitative", "axis": null},
            "x2": {"field": "t2"},
            "y": {"field": "f1", "type": "quantitative", "axis": null},
            "y2": {"field": "f2"}
          }
        },
        {
          "data": {"values": [{"t": 106, "f": 41.4, "d": "L"}, {"t": 548, "f": 41.4, "d": "R"}, {"t": 554, "f": 41.4, "d": "L"}, {"t": 1000, "f": 41.4, "d": "R"}]},
          "mark": {"type": "point", "filled": true, "size": 400, "color": "#000000", "opacity": 1, "strokeWidth": 0},
          "encoding": {
            "x": {"field": "t", "type": "quantitative", "axis": null},
            "y": {"field": "f", "type": "quantitative", "axis": null},
            "shape": {"field": "d", "type": "nominal", "scale": {"domain": ["L", "R"], "range": ["M 0 0 L 1 -0.4 L 0.7 0 L 1 0.4 Z", "M 0 0 L -1 -0.4 L -0.7 0 L -1 0.4 Z"]}, "legend": null}
          }
        },
        {
          "data": {"values": [{"t": 1123, "f": 5.85}]},
          "mark": {"type": "point", "filled": true, "size": 400, "color": "#000000", "opacity": 1, "strokeWidth": 0, "angle": 205.5, "shape": "M 0 0 L -0.4 1 L 0 0.7 L 0.4 1 Z"},
          "encoding": {
            "x": {"field": "t", "type": "quantitative", "axis": null},
            "y": {"field": "f", "type": "quantitative", "axis": null}
          }
        },
        {
          "data": {"values": [{"t": 124, "f": 54.3, "label": "PV period"}, {"t": 570, "f": 54.3, "label": "GAP period"}, {"t": 1272, "f": 53.9, "label": "Extra distractor competition"}, {"t": 1272, "f": 45.9, "label": "with binding"}]},
          "mark": {"type": "text", "align": "left", "baseline": "middle", "font": "Lato", "fontSize": 18, "fontWeight": "bold", "color": "#000000"},
          "encoding": {
            "x": {"field": "t", "type": "quantitative", "axis": null},
            "y": {"field": "f", "type": "quantitative", "axis": null},
            "text": {"field": "label"}
          }
        },
        {
          "data": {"values": [{"t": 1050, "f": 65.2, "label": "Preview GAP 6 items , No binding thin line, Binding Thick line"}]},
          "mark": {"type": "text", "align": "center", "baseline": "alphabetic", "font": "Lato", "fontSize": 18.2, "fontWeight": "bold", "color": "#000000", "clip": false},
          "encoding": {
            "x": {"field": "t", "type": "quantitative", "axis": null},
            "y": {"field": "f", "type": "quantitative", "axis": null},
            "text": {"field": "label"}
          }
        },
        {
          "data": {"values": [{}]},
          "mark": {"type": "rule", "color": "#000000", "strokeWidth": 2.7, "strokeCap": "square", "clip": false},
          "encoding": {
            "x": {"datum": -137, "axis": null},
            "y": {"datum": 164.1, "axis": null},
            "y2": {"datum": -19}
          }
        }
      ]
    }
  ]
}
